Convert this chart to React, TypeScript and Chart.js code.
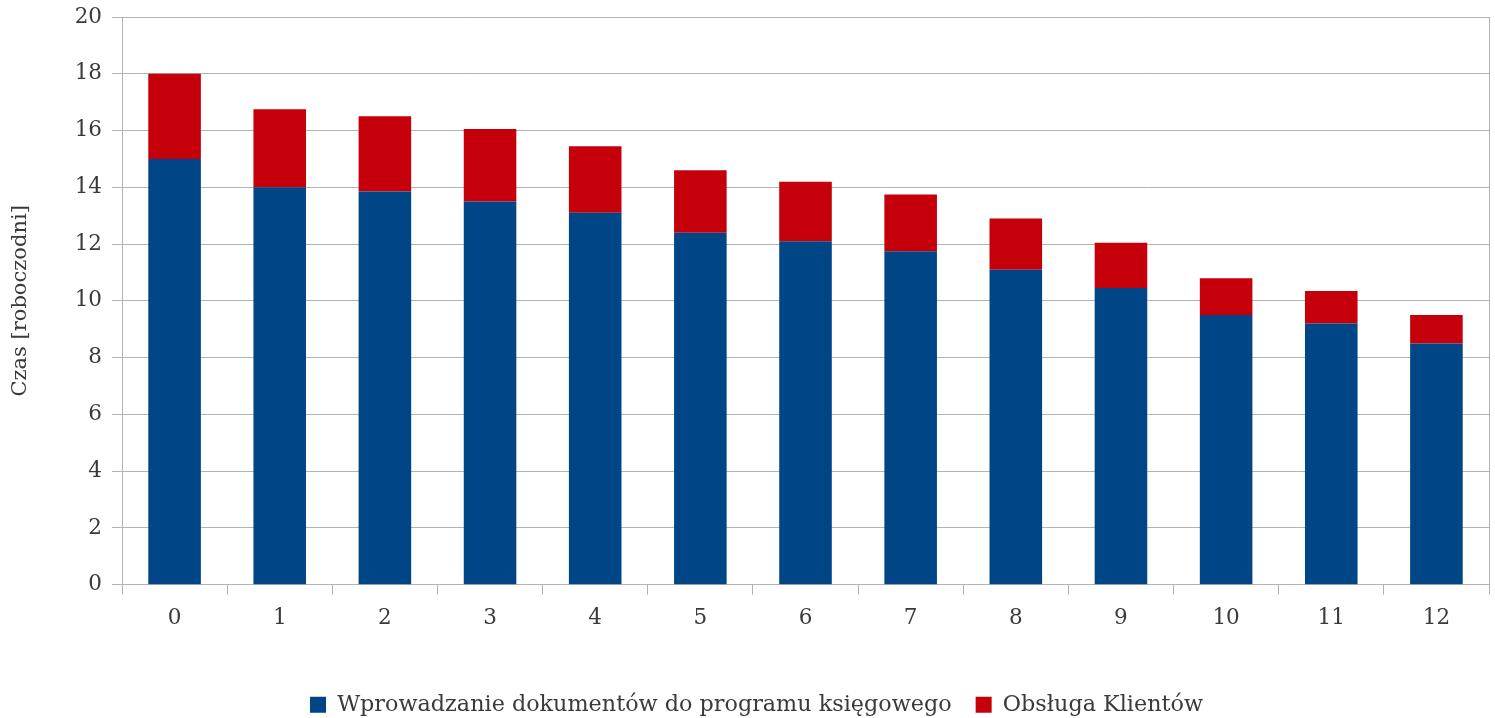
import React, { useEffect, useRef } from "react";
import { Chart, registerables } from "chart.js";

Chart.register(...registerables);

const categories = ["0", "1", "2", "3", "4", "5", "6", "7", "8", "9", "10", "11", "12"];
const dataEntry = [15.0, 14.0, 13.85, 13.5, 13.1, 12.4, 12.1, 11.75, 11.1, 10.45, 9.5, 9.2, 8.5];
const dataClients = [3.0, 2.75, 2.65, 2.55, 2.35, 2.2, 2.1, 2.0, 1.8, 1.6, 1.3, 1.15, 1.0];
const seriesNames = ["Wprowadzanie dokumentów do programu księgowego", "Obsługa Klientów"];
const yTitle = "Czas [roboczodni]";

const FONT = "'DejaVu Serif', serif";
const GRID = "#b3b3b3";
const TEXT = "#3a3a3a";
const LEGEND_PAD = 24;

const rightBorder = {
  id: "rightBorder",
  afterLayout(chart: any) {
    const lg = chart.legend;
    if (lg) {
      // compensate the trailing item padding so the legend content is truly centred
      lg.left += LEGEND_PAD / 2;
      lg.right += LEGEND_PAD / 2;
    }
  },
  afterDraw(chart: any) {
    const { ctx, chartArea } = chart;
    ctx.save();
    ctx.strokeStyle = GRID;
    ctx.lineWidth = 1;
    ctx.beginPath();
    ctx.moveTo(chartArea.right + 0.5, chartArea.top);
    ctx.lineTo(chartArea.right + 0.5, chartArea.bottom);
    ctx.stroke();
    ctx.restore();
  },
};

export default function App() {
  const ref = useRef<HTMLCanvasElement>(null);
  useEffect(() => {
    if (!ref.current) return;
    const chart = new Chart(ref.current, {
      type: "bar",
      data: {
        labels: categories,
        datasets: [
          { label: seriesNames[0], data: dataEntry, backgroundColor: "#004586", barPercentage: 0.5, categoryPercentage: 1.0 },
          { label: seriesNames[1], data: dataClients, backgroundColor: "#c5000b", barPercentage: 0.5, categoryPercentage: 1.0 },
        ],
      },
      options: {
        responsive: false,
        animation: false,
        layout: { padding: { top: 17, right: 6, left: 0, bottom: -8 } },
        plugins: {
          legend: {
            position: "bottom",
            labels: {
              boxWidth: 16,
              boxHeight: 16,
              padding: LEGEND_PAD,
              color: TEXT,
              font: { family: FONT, size: 22.3 },
            },
          },
          tooltip: { enabled: false },
        },
        scales: {
          x: {
            stacked: true,
            grid: { display: true, drawOnChartArea: false, offset: true, color: GRID, tickLength: 10 },
            border: { display: true, color: GRID },
            ticks: { color: TEXT, font: { family: FONT, size: 21.5 }, padding: 11 },
            afterFit(scale: any) {
              scale.height = 85;
            },
          },
          y: {
            stacked: true,
            min: 0,
            max: 20,
            ticks: { stepSize: 2, color: TEXT, font: { family: FONT, size: 21.5 }, padding: 10 },
            grid: { color: GRID, tickLength: 10 },
            border: { display: true, color: GRID },
            title: { display: true, text: yTitle, color: TEXT, font: { family: FONT, size: 21 }, padding: { top: 8, bottom: 0 } },
            afterFit(scale: any) {
              scale.width = 122;
              scale.paddingTop = 0;
              scale.paddingBottom = 0;
            },
          },
        },
      },
      plugins: [rightBorder],
    });
    return () => chart.destroy();
  }, []);
  return (
    <div style={{ position: "absolute", left: 0, top: 0, width: 1495, height: 718, background: "#fff" }}>
      <canvas ref={ref} width={1495} height={718} />
    </div>
  );
}
